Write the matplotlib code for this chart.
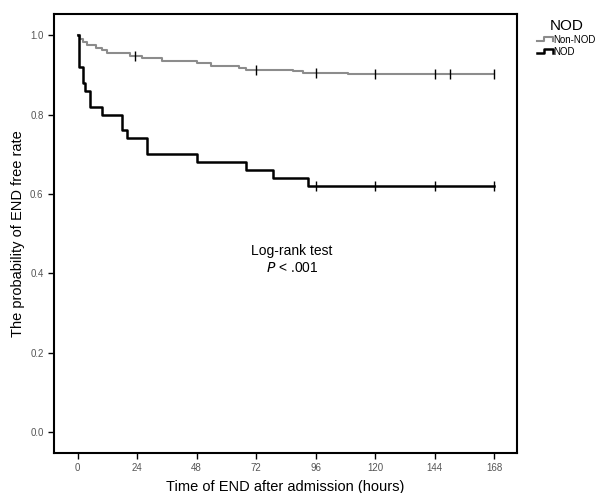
import matplotlib
matplotlib.use("Agg")
import numpy as np
from matplotlib import pyplot as plt
from matplotlib.legend_handler import HandlerBase
from matplotlib.lines import Line2D

# %% Data -------------------------------------------------------------------------------------------------------------
non_nod_times = [0, 1, 2, 4, 7.5, 10, 12, 21, 26, 34, 48, 54, 65, 68, 87, 91, 109, 168]
non_nod_surv = [1.0, 0.99, 0.983, 0.975, 0.969, 0.962, 0.955, 0.948, 0.942, 0.936, 0.929, 0.923, 0.917, 0.913,
                0.910, 0.906, 0.902, 0.902]
non_nod_censor = [23, 72, 96, 120, 144, 150, 168]

nod_times = [0, 0.7, 2, 3, 5, 10, 18, 20, 28, 48, 68, 79, 93, 168]
nod_surv = [1.0, 0.92, 0.88, 0.86, 0.82, 0.80, 0.76, 0.74, 0.70, 0.68, 0.66, 0.64, 0.62, 0.62]
nod_censor = [96, 120, 144, 168]

x_ticks = [0, 24, 48, 72, 96, 120, 144, 168]
y_ticks = [0.0, 0.2, 0.4, 0.6, 0.8, 1.0]

grey = "#8c8c8c"
plt.rcParams["font.family"] = ["Liberation Sans", "DejaVu Sans"]


class HandlerStep(HandlerBase):
    # small step-shaped legend icon like SPSS draws
    def create_artists(self, legend, orig_handle, xdescent, ydescent, width, height, fontsize, trans):
        x0, y0 = -xdescent, -ydescent
        xs = [x0, x0 + width * 0.45, x0 + width * 0.45, x0 + width, x0 + width]
        ys = [y0 + height * 0.2, y0 + height * 0.2, y0 + height * 0.85, y0 + height * 0.85, y0 + height * 0.2]
        line = Line2D(xs, ys, color=orig_handle.get_color(), lw=orig_handle.get_linewidth(), transform=trans)
        return [line]


def step_value(times, surv, t):
    idx = np.searchsorted(times, t, side="right") - 1
    return surv[idx]


# %% Plot -------------------------------------------------------------------------------------------------------------
fig = plt.figure(figsize=(6, 4.93), dpi=100)
ax = fig.add_axes([0.09, 0.081, 0.772, 0.891])

l1, = ax.step(non_nod_times, non_nod_surv, where="post", color=grey, lw=1.5)
l2, = ax.step(nod_times, nod_surv, where="post", color="black", lw=1.8)

ax.plot(non_nod_censor, [step_value(non_nod_times, non_nod_surv, t) for t in non_nod_censor],
        ls="none", marker="|", ms=7, mew=1.0, color="black")
ax.plot(nod_censor, [step_value(nod_times, nod_surv, t) for t in nod_censor],
        ls="none", marker="|", ms=7, mew=1.0, color="black")

ax.set_xlim(-9.5, 177.3)
ax.set_ylim(-0.053, 1.054)
ax.set_xticks(x_ticks)
ax.set_yticks(y_ticks)
ax.set_yticklabels([f"{v:.1f}" for v in y_ticks])
ax.tick_params(labelsize=7, labelcolor="#555555", length=4, width=1)
for s in ax.spines.values():
    s.set_linewidth(1.5)

ax.set_xlabel("Time of END after admission (hours)", fontsize=10.5, labelpad=5)
ax.set_ylabel("The probability of END free rate", fontsize=10.5, labelpad=4)

ax.text(86.4, 0.457, "Log-rank test", ha="center", va="center", fontsize=10)
ax.text(86.4, 0.413, r"$\it{P}$ < .001", ha="center", va="center", fontsize=10)

leg = fig.legend([l1, l2], ["Non-NOD", "NOD"], title="NOD", loc="upper left", bbox_to_anchor=(0.887, 0.972),
                 frameon=False, fontsize=7, title_fontsize=11, handler_map={Line2D: HandlerStep()},
                 handlelength=1.6, handletextpad=0.1, labelspacing=0.2, borderpad=0)

plt.savefig("out.png", dpi=100)
